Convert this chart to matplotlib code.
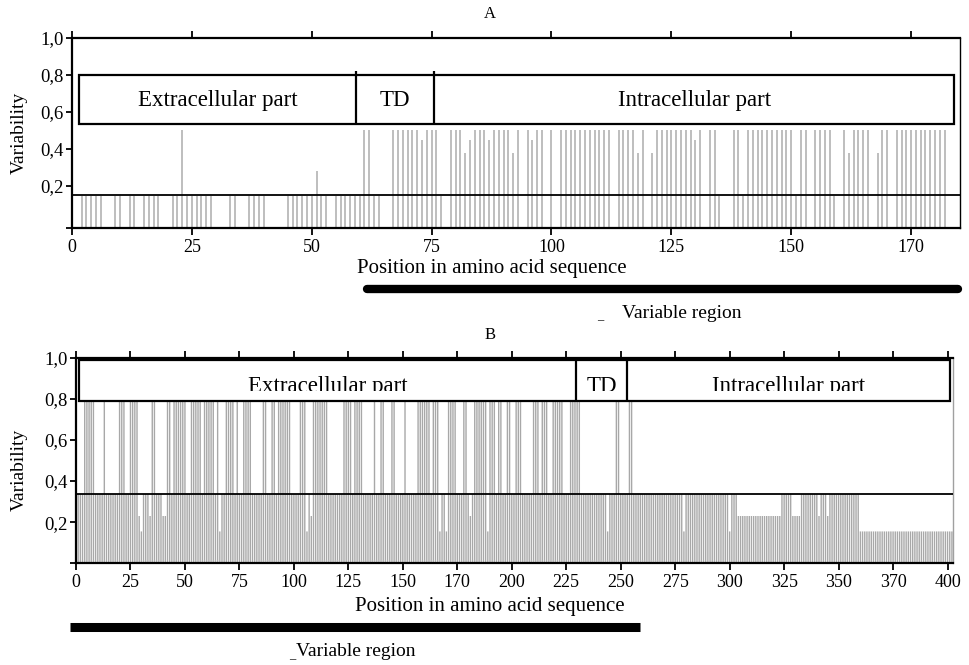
import matplotlib
matplotlib.use("Agg")
import matplotlib.pyplot as plt
from matplotlib.patches import Rectangle
from matplotlib.transforms import Bbox, TransformedBbox, blended_transform_factory

plt.rcParams["font.family"] = ["Liberation Serif", "DejaVu Serif"]

# ---- panel A: variable positions grouped by variability level ----
A_POS_050 = [23, 61, 62, 67, 68, 69, 70, 71, 72, 74, 75, 76, 79, 80, 81, 84, 85, 86,
             88, 89, 90, 91, 93, 95, 97, 98, 100, 102, 103, 104, 105, 106, 107, 108,
             109, 110, 111, 112, 114, 115, 116, 117, 119, 122, 123, 124, 125, 126, 127,
             128, 129, 131, 133, 134, 138, 139, 141, 142, 143, 144, 145, 146, 147, 148,
             149, 150, 152, 153, 155, 156, 157, 158, 161, 163, 164, 165, 166, 169, 170,
             172, 173, 174, 175, 176, 177, 178, 179, 180, 181, 182]
A_POS_045 = [73, 83, 87, 96, 130]
A_POS_038 = [82, 92, 118, 121, 162, 168]
A_POS_028 = [51]
A_POS_LOW = [2, 3, 4, 5, 6, 9, 10, 12, 13, 15, 16, 17, 18, 21, 22, 24, 25, 26, 27, 28,
             29, 33, 34, 37, 38, 39, 40, 45, 46, 47, 48, 49, 50, 52, 53, 55, 56, 57, 58,
             59, 60, 63, 64, 77, 135, 140, 151, 159]
A_LOW_LEVEL = 0.145
A_THRESHOLD = 0.15
A_DOMAINS = [("Extracellular part", 1.5, 59.2), ("TD", 59.2, 75.5),
             ("Intracellular part", 75.5, 184.0)]
A_VARIABLE_REGION = [61.5, 184.8]
A_TICKS = [0, 25, 50, 75, 100, 125, 150, 175]
A_TICK_LABELS = ["0", "25", "50", "75", "100", "125", "150", "170"]

# ---- panel B: one code per residue (1..402) ----
# H = up to box (0,79), m = 0,34, l = 0,23, s = 0,16
B_CODES = (
    "mmmHHHHHmm" "mmHmmmmmmH" "HHmmHHHHls" "mmmlHHmmml" "lHHmHHHHHH"
    "mmHHHHHmHH" "HHHmHsmmHH" "HHmHmmHHHH" "mmmmmHHmmH" "HmHHHHHHmm"
    "mmHHHsmlHH" "HHHHHmmmmm" "mmHHHHmHHH" "HmmmmmHmmH" "HmmmHHmmmm"
    "HmmmmmHHHH" "HHmHHHsmms" "HHHHmmmHHm" "lmHHHHHHsH" "HHmHHmmHHm"
    "mHHHmmmmmH" "HHmHHHmmHH" "HHHmmmHHHH" "Hmmmmmmmmm" "mmmsmmmHHm"
    "mmmHHmmmmm" "mmmmmmmmmm" "mmmmmmmmsm" "mmmmmmmmmm" "mmmmmmmmms"
    "mmmlllllll" "llllllllll" "lllmmmmmll" "llmmmmmmmm" "lmmmlmmmmm"
    "mmmmmmmmms" "ssssssssss" "ssssssssss" "ssssssssss" "ssssssssss"
    "ss"
)
B_LEVELS = {"H": 0.79, "m": 0.337, "l": 0.23, "s": 0.155}
B_THRESHOLD = 0.337
B_DOMAINS = [("Extracellular part", 1.4, 229.7), ("TD", 229.7, 253.0),
             ("Intracellular part", 253.0, 401.0)]
B_VARIABLE_REGION = [-2.7, 258.7]
B_TICKS = list(range(0, 401, 25))
B_TICK_LABELS = ["0", "25", "50", "75", "100", "125", "150", "170", "200", "225",
                 "250", "275", "300", "325", "350", "370", "400"]
Y_TICKS = [0.2, 0.4, 0.6, 0.8, 1.0]
Y_TICK_LABELS = ["0,2", "0,4", "0,6", "0,8", "1,0"]

BAR_COLOR = "#b9b9b9"


def style_axes(ax, xmax, ybottom, xticks, xlabels, right_color):
    ax.set_xlim(0, xmax)
    ax.set_ylim(ybottom, 1.0)
    ax.set_xticks(xticks)
    ax.set_xticklabels(xlabels)
    ax.set_yticks([ybottom] + Y_TICKS)
    ax.set_yticklabels([""] + Y_TICK_LABELS)
    for side in ["left", "bottom", "top"]:
        ax.spines[side].set_linewidth(1.6)
    ax.spines["right"].set_linewidth(1.0)
    ax.spines["right"].set_color(right_color)
    ax.tick_params(axis="x", top=True, direction="out", length=5, width=1.3,
                   labelsize=13, pad=3)
    ax.tick_params(axis="y", direction="out", length=4, width=1.3,
                   labelsize=13.5, pad=2)


def draw_domains(ax, domains, y0, y1, text_y, div_top, clip_y=None):
    x0 = domains[0][1]
    x1 = domains[-1][2]
    ax.add_patch(Rectangle((x0, y0), x1 - x0, y1 - y0, fill=False,
                           lw=1.6, ec="black", zorder=4))
    for name, a, b in domains[1:]:
        ax.vlines(a, y0, div_top, colors="black", lw=1.6, zorder=4)
    for name, a, b in domains:
        t = ax.text((a + b) / 2, text_y, name, ha="center", va="baseline",
                    fontsize=16.5, zorder=5)
        if clip_y is not None:
            t.set_clip_on(True)
            t.set_clip_box(TransformedBbox(Bbox([[a, clip_y], [b, 1.0]]),
                                           ax.transData))


fig = plt.figure(figsize=(9.7, 6.65), dpi=100)

# ---------------- panel A ----------------
axA = fig.add_axes([72 / 970, 1 - 227.7 / 665, 888 / 970, 190 / 665])
a_bottom = -0.025
a_pos = A_POS_LOW + A_POS_050 + A_POS_045 + A_POS_038 + A_POS_028
a_val = ([A_LOW_LEVEL] * len(A_POS_LOW) + [0.5] * len(A_POS_050)
         + [0.45] * len(A_POS_045) + [0.38] * len(A_POS_038) + [0.28] * len(A_POS_028))
axA.vlines(a_pos, a_bottom, a_val, colors=BAR_COLOR, lw=1.3, zorder=2)
axA.axhline(A_THRESHOLD, color="black", lw=1.3, zorder=3)
style_axes(axA, 185.2, a_bottom, A_TICKS, A_TICK_LABELS, "black")
draw_domains(axA, A_DOMAINS, 0.535, 0.8, 0.631, 0.82)

trA = blended_transform_factory(axA.transData, axA.transAxes)
axA.plot(A_VARIABLE_REGION, [-0.323, -0.323], transform=trA, clip_on=False,
         color="black", lw=6, solid_capstyle="round")

# ---------------- panel B ----------------
axB = fig.add_axes([76 / 970, 1 - 563.3 / 665, 877 / 970, 205.6 / 665])
b_pos = list(range(1, len(B_CODES) + 1))
b_val = [B_LEVELS[c] for c in B_CODES]
axB.vlines(b_pos, 0, b_val, colors="#a8a8a8", lw=1.0, zorder=2, snap=False)
axB.axhline(B_THRESHOLD, color="black", lw=1.3, zorder=3)
style_axes(axB, 402.5, 0.0, B_TICKS, B_TICK_LABELS, "#a0a0a0")
draw_domains(axB, B_DOMAINS, 0.79, 0.99, 0.832, 1.0, clip_y=0.836)

trB = blended_transform_factory(axB.transData, axB.transAxes)
axB.plot(B_VARIABLE_REGION, [-0.308, -0.308], transform=trB, clip_on=False,
         color="black", lw=6.5, solid_capstyle="butt")

# ---------------- labels ----------------
fig.text(490 / 970, 1 - 14 / 665, "A", ha="center", va="center", fontsize=12)
fig.text(490 / 970, 1 - 335 / 665, "B", ha="center", va="center", fontsize=12)
fig.text(492 / 970, 1 - 268 / 665, "Position in amino acid sequence",
         ha="center", va="center", fontsize=15)
fig.text(490 / 970, 1 - 607 / 665, "Position in amino acid sequence",
         ha="center", va="center", fontsize=15)
for yc in [132.5, 470]:
    fig.text(19 / 970, 1 - yc / 665, "Variability", rotation=90,
             ha="center", va="center", fontsize=14)
fig.text(682 / 970, 1 - 314 / 665, "Variable region", ha="center", va="center",
         fontsize=14)
fig.text(600 / 970, 1 - 316 / 665, "_", ha="center", va="center", fontsize=9)
fig.text(356 / 970, 1 - 652 / 665, "Variable region", ha="center", va="center",
         fontsize=14)
fig.text(292 / 970, 1 - 655 / 665, "_", ha="center", va="center", fontsize=9)

fig.savefig("out.png", dpi=100)
